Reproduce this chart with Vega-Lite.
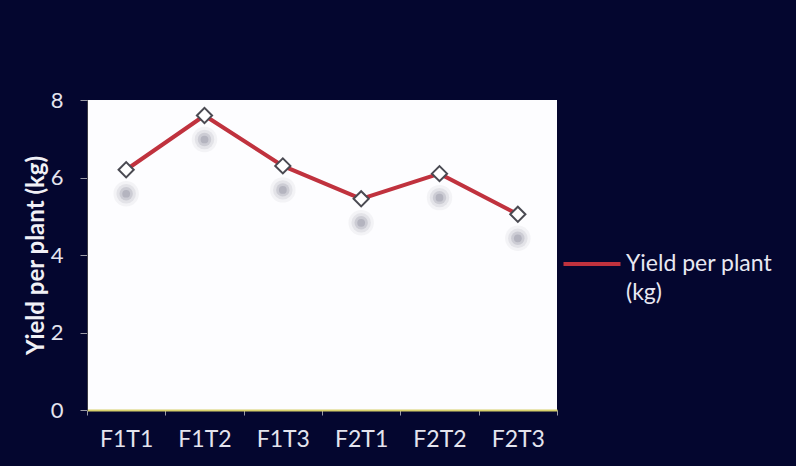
{
  "$schema": "https://vega.github.io/schema/vega-lite/v6.json",
  "width": 470,
  "height": 310,
  "autosize": {"type": "none"},
  "padding": {"left": 87, "top": 100, "right": 239, "bottom": 56},
  "background": "#04062f",
  "config": {
    "view": {"fill": "#fdfdff", "stroke": null},
    "font": "Lato"
  },
  "data": {
    "values": [
      {"treatment": "F1T1", "yield": 6.2},
      {"treatment": "F1T2", "yield": 7.6},
      {"treatment": "F1T3", "yield": 6.3},
      {"treatment": "F2T1", "yield": 5.45},
      {"treatment": "F2T2", "yield": 6.1},
      {"treatment": "F2T3", "yield": 5.05}
    ]
  },
  "encoding": {
    "x": {
      "field": "treatment",
      "type": "nominal",
      "sort": null,
      "scale": {"type": "band", "paddingInner": 0, "paddingOuter": 0},
      "axis": {
        "title": null,
        "labelAngle": 0,
        "labelColor": "#e4e4ee",
        "labelFontSize": 23,
        "labelPadding": 13,
        "domainColor": "#d8d06c",
        "domainWidth": 2,
        "tickColor": "#9a9aa6",
        "tickSize": 5,
        "tickBand": "extent",
        "grid": false
      }
    },
    "y": {
      "field": "yield",
      "type": "quantitative",
      "scale": {"domain": [0, 8]},
      "axis": {
        "values": [0, 2, 4, 6, 8],
        "title": "Yield per plant (kg)",
        "titleColor": "#f0f0f6",
        "titleFontSize": 24,
        "titleFontWeight": "bold",
        "titlePadding": 2,
        "labelColor": "#e4e4ee",
        "labelFontSize": 22,
        "labelPadding": 17,
        "domainColor": "#3a3a44",
        "tickColor": "#9a9aa6",
        "tickSize": 7,
        "grid": false
      }
    }
  },
  "layer": [
    {"mark": {"type": "circle", "yOffset": 24, "size": 650, "color": "#9a9aaa", "opacity": 0.1}},
    {"mark": {"type": "circle", "yOffset": 24, "size": 380, "color": "#8a8a9c", "opacity": 0.15}},
    {"mark": {"type": "circle", "yOffset": 24, "size": 180, "color": "#7a7a8e", "opacity": 0.22}},
    {"mark": {"type": "circle", "yOffset": 24, "size": 60, "color": "#6a6a80", "opacity": 0.25}},
    {
      "mark": {"type": "line", "strokeWidth": 4},
      "encoding": {
        "color": {
          "datum": "Yield per plant",
          "scale": {"domain": ["Yield per plant", "(kg)"], "range": ["#c0323e", "rgba(0,0,0,0)"]},
          "legend": {
            "title": null,
            "orient": "none",
            "legendX": 488,
            "legendY": 147,
            "symbolType": "M-1.9,0H1.9",
            "symbolStrokeWidth": 4,
            "symbolSize": 900,
            "labelColor": "#e8e8f2",
            "labelFontSize": 23,
            "labelLimit": 300,
            "labelOffset": 17,
            "rowPadding": 0
          }
        }
      }
    },
    {
      "mark": {"type": "point", "shape": "diamond", "filled": true, "fill": "white", "stroke": "#4a4a52", "strokeWidth": 2, "size": 230, "opacity": 1}
    }
  ]
}
